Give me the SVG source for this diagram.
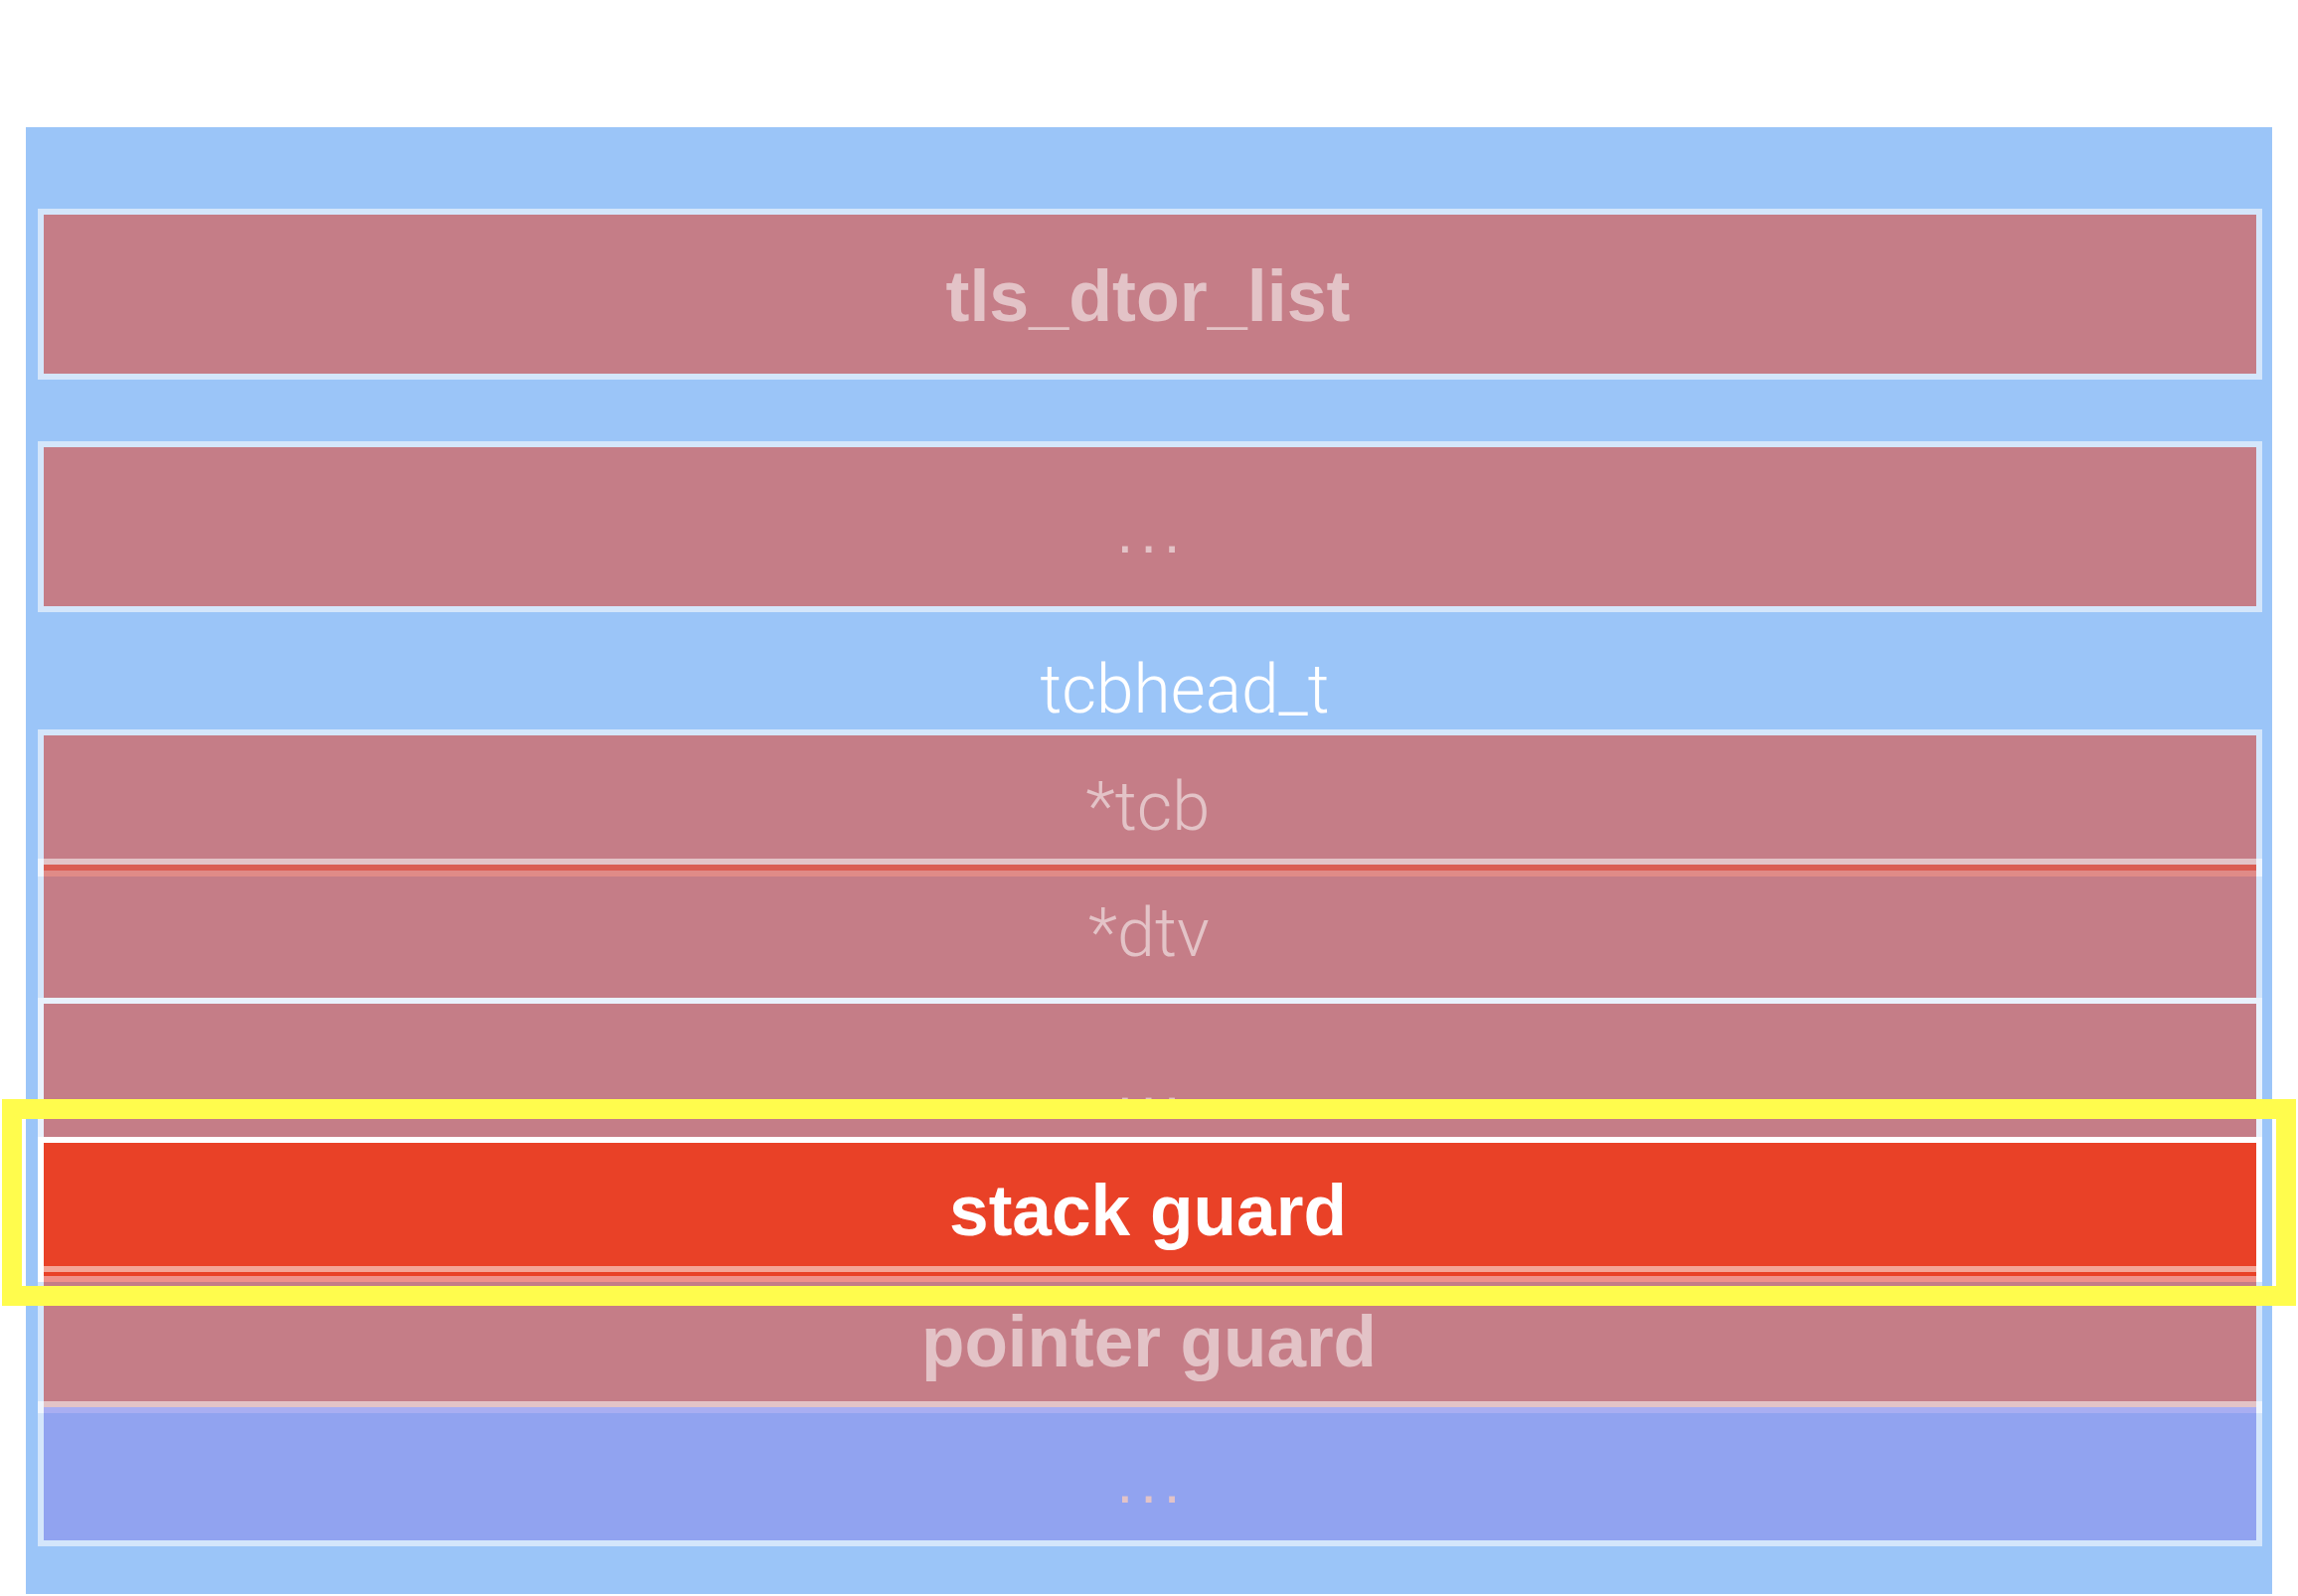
<svg xmlns="http://www.w3.org/2000/svg" width="2312" height="1606" viewBox="0 0 2312 1606">
  <style>
    .row { fill: #C57D87; stroke: #D4E6FB; stroke-width: 6; }
    .lbl { font-family: "Liberation Sans", Arial, sans-serif; text-anchor: middle; fill: #E3C3C7; }
    .bold { font-weight: bold; font-size: 72px; }
    .thin { font-family: Roboto, "Open Sans", "Liberation Sans", sans-serif; font-weight: 300; font-size: 68px; }
    .dots { font-weight: normal; font-size: 60px; letter-spacing: 7px; }
  </style>
  <rect x="0" y="0" width="2312" height="1606" fill="#FFFFFF"/>

  <g id="container">
    <rect x="26" y="128" width="2260" height="1476" fill="#9BC5F8"/>
    <text class="lbl thin" x="1192" y="717" style="fill:#FFFFFF" textLength="291" lengthAdjust="spacingAndGlyphs">tcbhead_t</text>
  </g>

  <g id="tls_dtor_list">
    <rect class="row" x="41" y="213" width="2232" height="166"/>
    <text class="lbl bold" x="1155" y="323" textLength="407" lengthAdjust="spacingAndGlyphs">tls_dtor_list</text>
  </g>

  <g id="ellipsis1">
    <rect class="row" x="41" y="447" width="2232" height="166"/>
    <text class="lbl dots" x="1159" y="556">...</text>
  </g>

  <g id="tcb">
    <rect class="row" x="41" y="737" width="2232" height="130"/>
    <text class="lbl thin" x="1155" y="835" textLength="125" lengthAdjust="spacingAndGlyphs">*tcb</text>
  </g>

  <g id="dtv">
    <rect class="row" x="41" y="867" width="2232" height="140"/>
    <text class="lbl thin" x="1156" y="962" textLength="122" lengthAdjust="spacingAndGlyphs">*dtv</text>
  </g>

  <g id="ellipsis2">
    <rect class="row" x="41" y="1007" width="2232" height="140" style="stroke:#E9F2FD"/>
    <text class="lbl dots" x="1159" y="1111">...</text>
  </g>

  <g id="pointer_guard">
    <rect class="row" x="41" y="1293" width="2232" height="120"/>
    <text class="lbl bold" x="1156" y="1375" textLength="458" lengthAdjust="spacingAndGlyphs">pointer guard</text>
  </g>

  <g id="ellipsis3">
    <rect class="row" x="41" y="1413" width="2232" height="140" style="fill:#91A3F0"/>
    <text class="lbl dots" x="1159" y="1512">...</text>
  </g>

  <g id="stack_guard">
    <rect x="41" y="1147" width="2232" height="146" fill="#E94127" stroke="#FFFFFF" stroke-width="6"/>
    <rect x="44" y="1274" width="2226" height="6" fill="#F4A597"/>
    <rect x="44" y="1284" width="2226" height="6" fill="#F0918A"/>
    <rect x="44" y="1290" width="2226" height="4" fill="#C57D87"/>
    <rect x="38" y="1290" width="6" height="4" fill="#D4E6FB"/>
    <rect x="2270" y="1290" width="6" height="4" fill="#D4E6FB"/>
    <text class="lbl bold" x="1155" y="1243" style="fill:#FFFFFF" textLength="400" lengthAdjust="spacingAndGlyphs">stack guard</text>
  </g>

  <g id="connectors">
    <rect x="44" y="864" width="2226" height="6" fill="#E3C4C7"/>
    <rect x="44" y="870" width="2226" height="6" fill="#DA5D52"/>
    <rect x="44" y="876" width="2226" height="6" fill="#E08B87"/>
    <rect x="38" y="864" width="6" height="18" fill="#EEF5FE"/>
    <rect x="2270" y="864" width="6" height="18" fill="#EEF5FE"/>
    <rect x="44" y="1410" width="2226" height="6" fill="#E3C4C7"/>
    <rect x="44" y="1416" width="2226" height="6" fill="#A9AEF2"/>
    <rect x="38" y="1410" width="6" height="12" fill="#EEF5FE"/>
    <rect x="2270" y="1410" width="6" height="12" fill="#EEF5FE"/>
  </g>

  <g id="highlight">
    <rect x="12" y="1116" width="2288" height="188" fill="none" stroke="#FFFC4D" stroke-width="20"/>
  </g>
</svg>
